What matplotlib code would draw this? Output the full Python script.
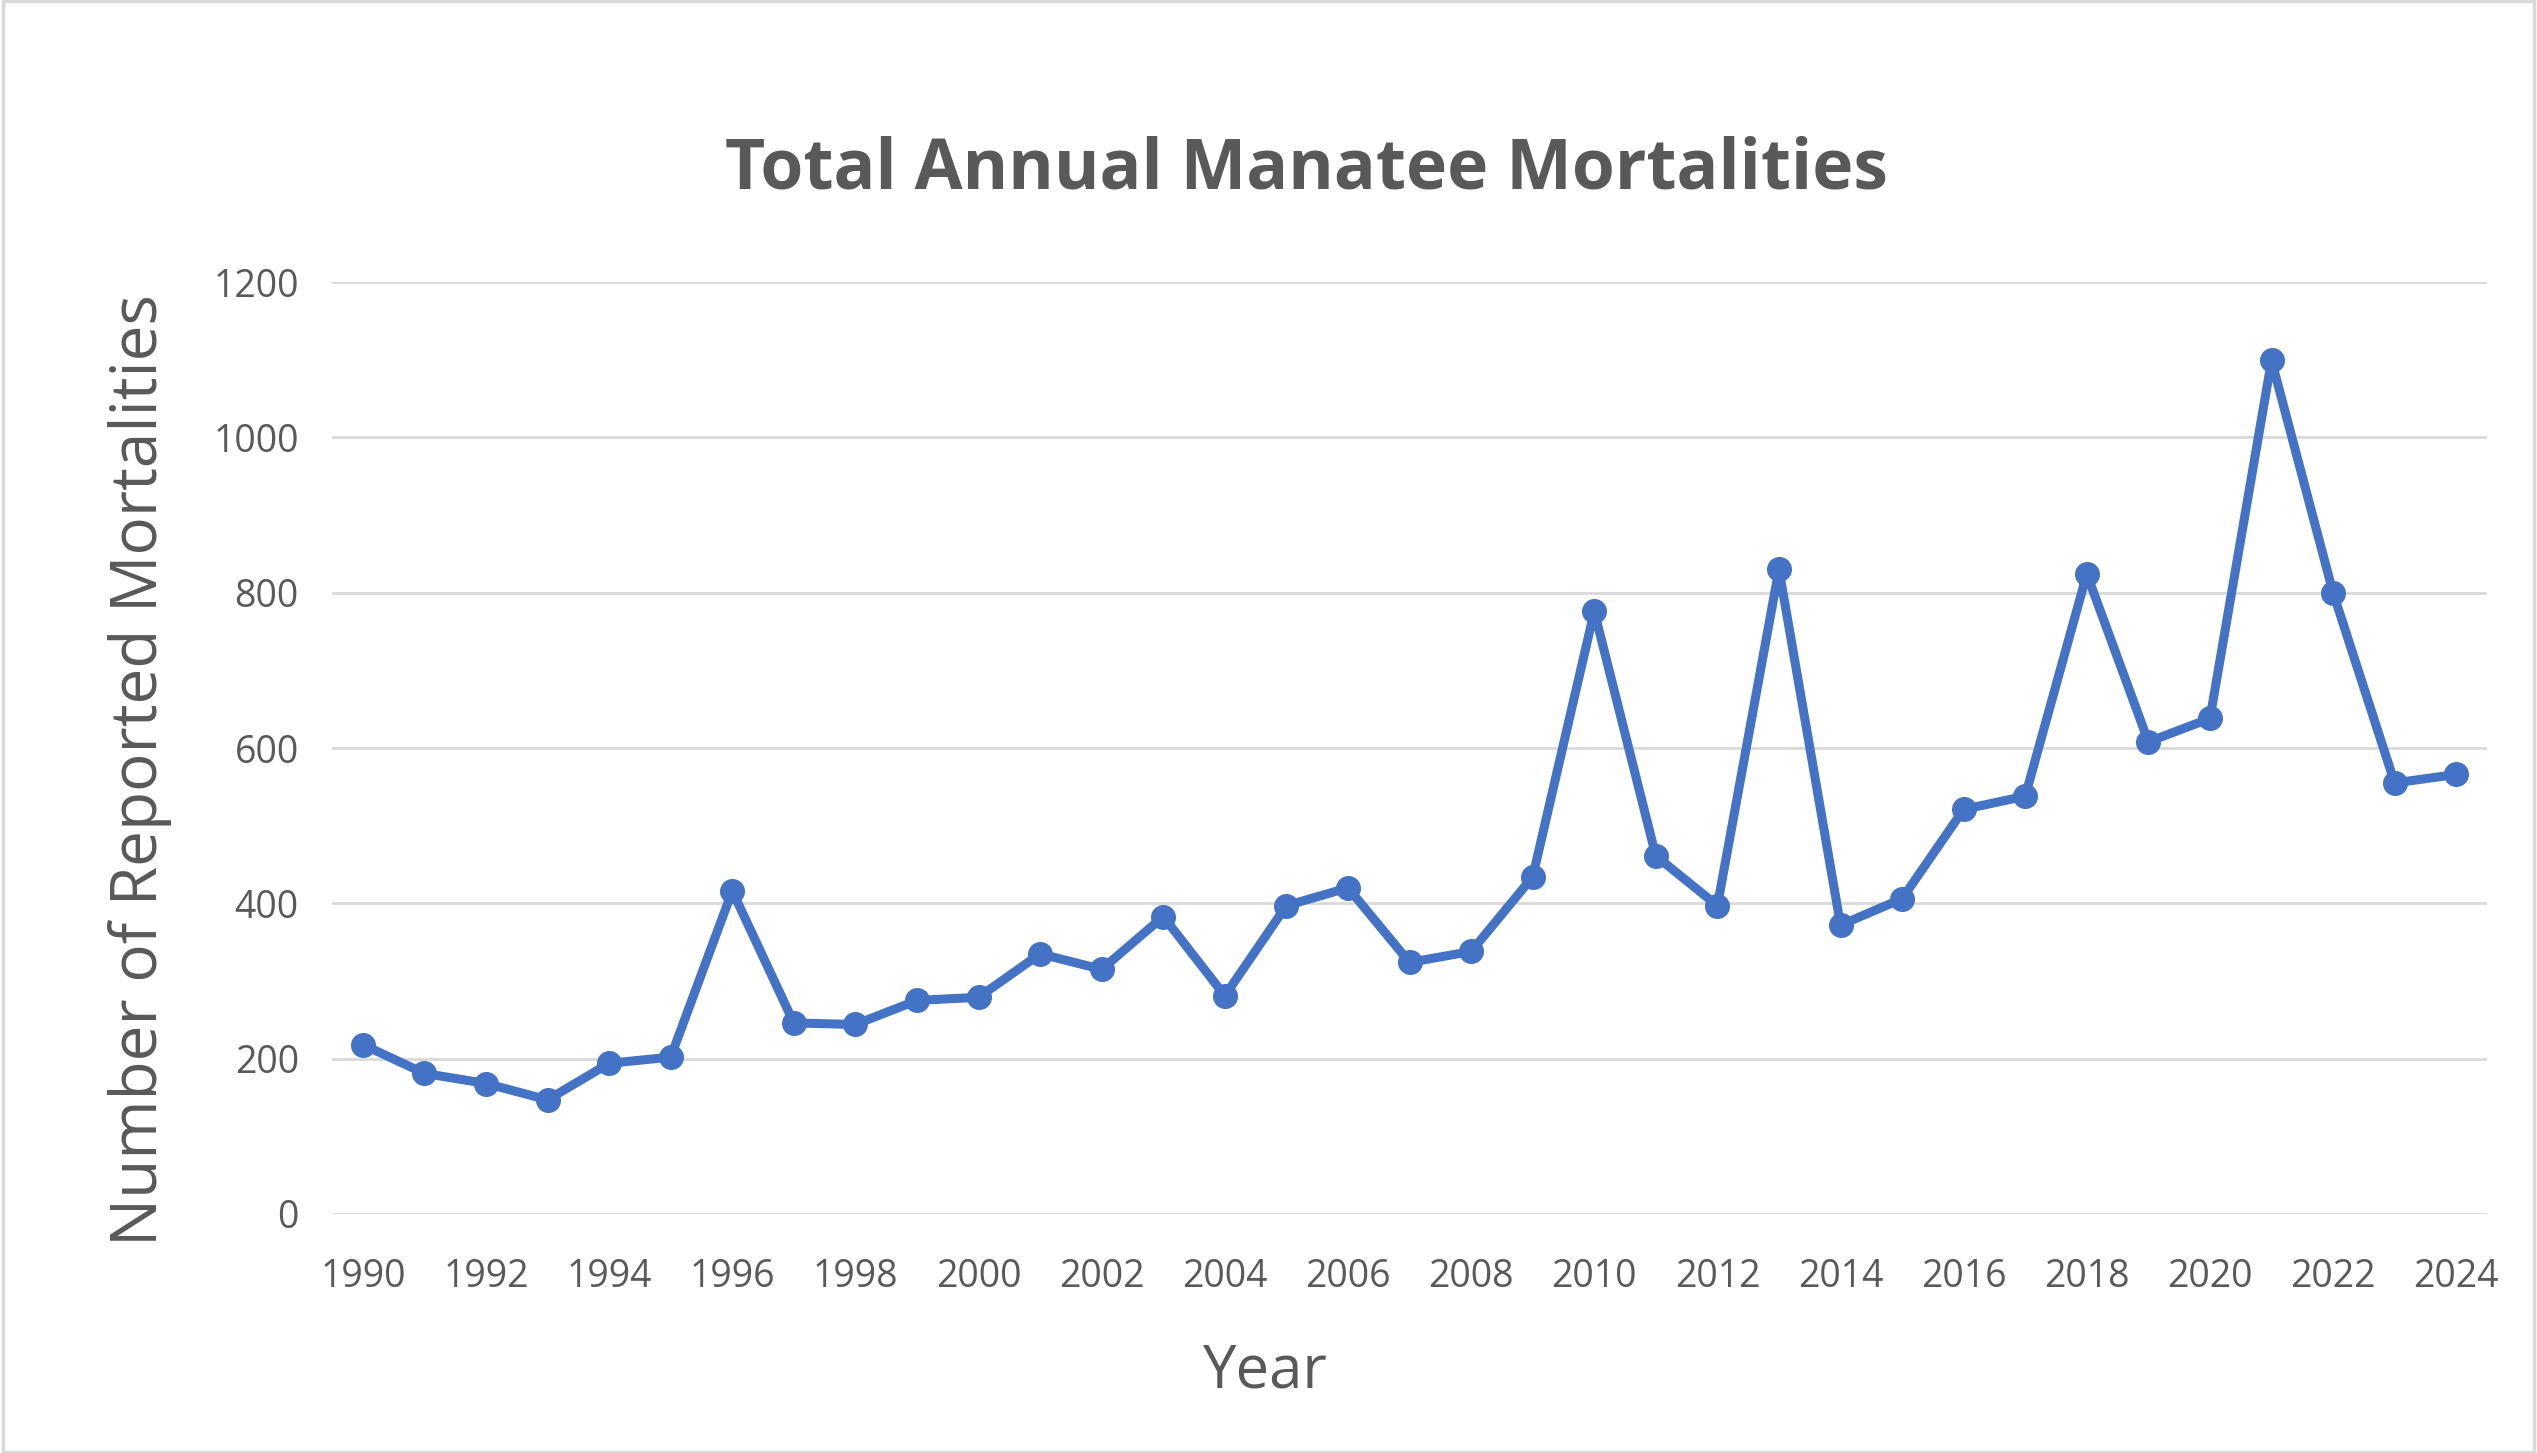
import matplotlib
matplotlib.use("Agg")
import matplotlib.pyplot as plt
from matplotlib.patches import Rectangle

years = list(range(1990, 2025))
deaths = [218, 181, 168, 147, 194, 202, 416, 246, 244, 275,
          279, 335, 315, 383, 281, 397, 420, 324, 338, 434,
          776, 461, 397, 830, 372, 406, 521, 538, 824, 608,
          638, 1099, 800, 555, 566]
year_ticks = list(range(1990, 2025, 2))
y_ticks = [0, 200, 400, 600, 800, 1000, 1200]

GREY = "#595959"
BLUE = "#4472C4"

def main():
    plt.rcParams['font.family'] = ['Open Sans', 'DejaVu Sans']
    fig = plt.figure(figsize=(25.37, 14.53), dpi=100)
    ax = fig.add_axes([0.1309, 0.1645, 0.9803 - 0.1309, 0.8059 - 0.1645])

    ax.plot(years, deaths, color=BLUE, lw=6.5, marker='o', markersize=17,
            solid_joinstyle='round', zorder=3)

    ax.set_xlim(1989.5, 2024.5)
    ax.set_ylim(0, 1200)
    ax.set_xticks(year_ticks)
    ax.set_xticklabels([str(y) for y in year_ticks])
    ax.set_yticks(y_ticks)
    ax.tick_params(length=0, labelsize=27, labelcolor=GREY)
    ax.tick_params(axis='x', pad=32)
    ax.tick_params(axis='y', pad=24)
    ax.grid(axis='y', color='#D9D9D9', lw=2)
    ax.set_axisbelow(True)
    for s in ax.spines.values():
        s.set_visible(False)

    fig.text(0.515, 0.883, 'Total Annual Manatee Mortalities', ha='center', va='center',
             fontsize=50, fontweight='bold', color=GREY)
    fig.text(0.055, 0.47, 'Number of Reported Mortalities', ha='center', va='center',
             rotation=90, fontsize=46, color=GREY)
    fig.text(0.4986, 0.056, 'Year', ha='center', va='center', fontsize=43, color=GREY)

    fig.patches.append(Rectangle((0.001, 0.001), 0.998, 0.998, transform=fig.transFigure,
                                 fill=False, edgecolor='#D9D9D9', lw=2.5))

    fig.savefig('out.png', dpi=100)

if __name__ == "__main__":
    main()
